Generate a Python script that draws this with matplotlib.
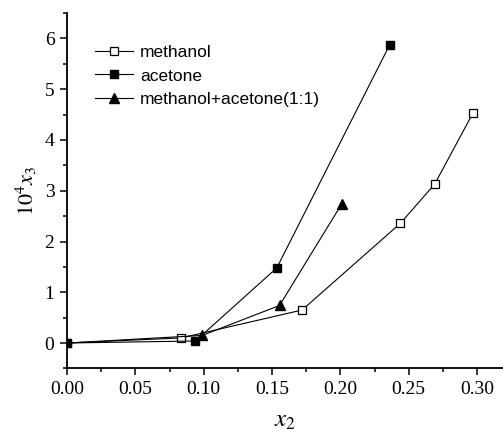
import numpy as np
import matplotlib.pyplot as plt
from matplotlib.ticker import MultipleLocator

plt.rcParams['mathtext.fontset'] = 'stix'

# data
x_methanol = [0.0, 0.0835, 0.172, 0.244, 0.269, 0.297]
y_methanol = [0.0, 0.10, 0.65, 2.36, 3.13, 4.53]

x_acetone = [0.0, 0.094, 0.1535, 0.236]
y_acetone = [0.0, 0.04, 1.48, 5.87]

x_mix = [0.0, 0.099, 0.1555, 0.201]
y_mix = [0.0, 0.15, 0.74, 2.74]

labels = ['methanol', 'acetone', 'methanol+acetone(1:1)']

fig = plt.figure(figsize=(5.03, 4.37), dpi=100)
ax = fig.add_axes([0.1332, 0.157, 0.8668, 0.813])

lw = 0.8
ax.plot(x_methanol, y_methanol, '-s', color='black', lw=lw, ms=5.5,
        mfc='white', mec='black', mew=0.9, label=labels[0])
ax.plot(x_acetone, y_acetone, '-s', color='black', lw=lw, ms=5.5,
        mfc='black', mec='black', label=labels[1])
ax.plot(x_mix, y_mix, '-^', color='black', lw=lw, ms=6.5,
        mfc='black', mec='black', label=labels[2], markevery=[1, 2, 3])

ax.set_xlim(0.0, 0.319)
ax.set_ylim(-0.5, 6.5)
ax.xaxis.set_major_locator(MultipleLocator(0.05))
ax.xaxis.set_minor_locator(MultipleLocator(0.025))
ax.yaxis.set_major_locator(MultipleLocator(1))
ax.yaxis.set_minor_locator(MultipleLocator(0.5))

for s in ['top', 'right']:
    ax.spines[s].set_visible(False)
for s in ['left', 'bottom']:
    ax.spines[s].set_linewidth(1.3)

ax.tick_params(which='major', direction='out', length=5, width=1.1,
               labelsize=14, pad=4)
ax.tick_params(which='minor', direction='out', length=3, width=1.1)
for lab in ax.get_xticklabels() + ax.get_yticklabels():
    lab.set_family('Liberation Serif')
ax.xaxis.set_major_formatter(plt.FuncFormatter(lambda v, p: f'{v:.2f}'))
ax.yaxis.set_major_formatter(plt.FuncFormatter(lambda v, p: f'{v:.0f}'))

ax.set_xlabel(r'$x_2$', fontsize=18, labelpad=7)
ax.set_ylabel(r'$10^4x_3$', fontsize=16, labelpad=4)

leg = ax.legend(loc='upper left', bbox_to_anchor=(0.048, 0.93), frameon=False,
                prop={'family': 'Liberation Sans', 'size': 12.5},
                handlelength=2.2, handletextpad=0.4, labelspacing=0.48,
                borderaxespad=0)

fig.savefig('out.png', dpi=100)
